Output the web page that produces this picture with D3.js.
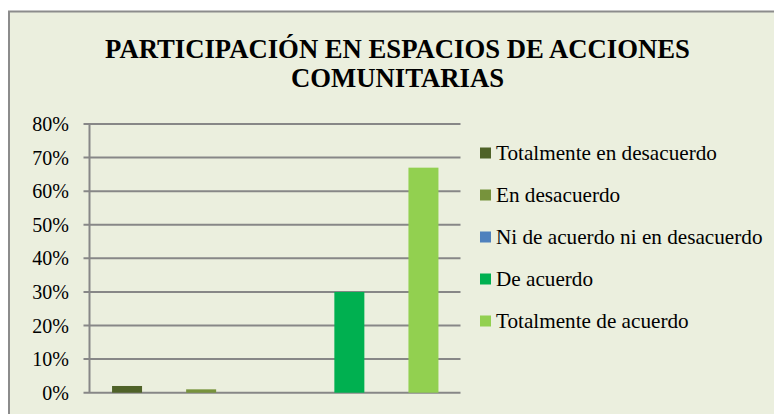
<!DOCTYPE html>
<html><head><meta charset="utf-8">
<script src="https://cdn.jsdelivr.net/npm/d3@7"></script>
</head><body style="margin:0">
<script>
const categories = ["Totalmente en desacuerdo","En desacuerdo","Ni de acuerdo ni en desacuerdo","De acuerdo","Totalmente de acuerdo"];
const values = [0.02, 0.01, 0.00, 0.30, 0.67];
const colors = ["#4F6228","#77933C","#4F81BD","#00B050","#92D050"];
const yTicks = [0,0.1,0.2,0.3,0.4,0.5,0.6,0.7,0.8];
const titleLines = ["PARTICIPACIÓN EN ESPACIOS DE ACCIONES","COMUNITARIAS"];

const FONT = "'Liberation Serif'";
const W=774,H=414;
const svg=d3.select("body").append("svg").attr("width",W).attr("height",H).style("display","block");
svg.append("rect").attr("x",9).attr("y",11.5).attr("width",800).attr("height",420)
  .attr("fill","#EBEFDE").attr("stroke","#8C8C8C").attr("stroke-width",2);

const t=svg.append("text").attr("text-anchor","middle").style("font-family",FONT)
  .attr("font-weight","bold").attr("font-size",26.7).attr("fill","#000");
titleLines.forEach((l,i)=>t.append("tspan").attr("x",397.5).attr("y",57.5+i*29.5).text(l));

const x=d3.scaleBand().domain(categories).range([90,460.5]).paddingInner(0).paddingOuter(0);
const y=d3.scaleLinear().domain([0,0.8]).range([392.7,124]);

const g=svg.append("g");
g.selectAll("line.grid").data(yTicks).join("line")
  .attr("x1",83.5).attr("x2",460.5).attr("y1",d=>y(d)).attr("y2",d=>y(d))
  .attr("stroke","#878787").attr("stroke-width",2);
g.append("line").attr("x1",89.5).attr("x2",89.5).attr("y1",y(0.8)).attr("y2",y(0))
  .attr("stroke","#878787").attr("stroke-width",2);
g.selectAll("text.tick").data(yTicks).join("text")
  .attr("x",69).attr("y",d=>y(d)).attr("dy","0.35em").attr("text-anchor","end")
  .style("font-family",FONT).attr("font-size",20).attr("fill","#000")
  .text(d3.format(".0%"));

const bw=30;
g.selectAll("rect.bar").data(values).join("rect")
  .attr("x",(d,i)=>x(categories[i])+x.bandwidth()/2-bw/2)
  .attr("width",bw)
  .attr("y",d=>y(d)).attr("height",d=>y(0)-y(d))
  .attr("fill",(d,i)=>colors[i]);

const lg=svg.append("g");
const ly=d3.scalePoint().domain(categories).range([153,321]);
categories.forEach((c,i)=>{
  lg.append("rect").attr("x",480).attr("y",ly(c)-5.5).attr("width",11).attr("height",11).attr("fill",colors[i]);
  lg.append("text").attr("x",496).attr("y",ly(c)+6.5)
    .style("font-family",FONT).attr("font-size",21.2).attr("fill","#000").text(c);
});
</script>
</body></html>
